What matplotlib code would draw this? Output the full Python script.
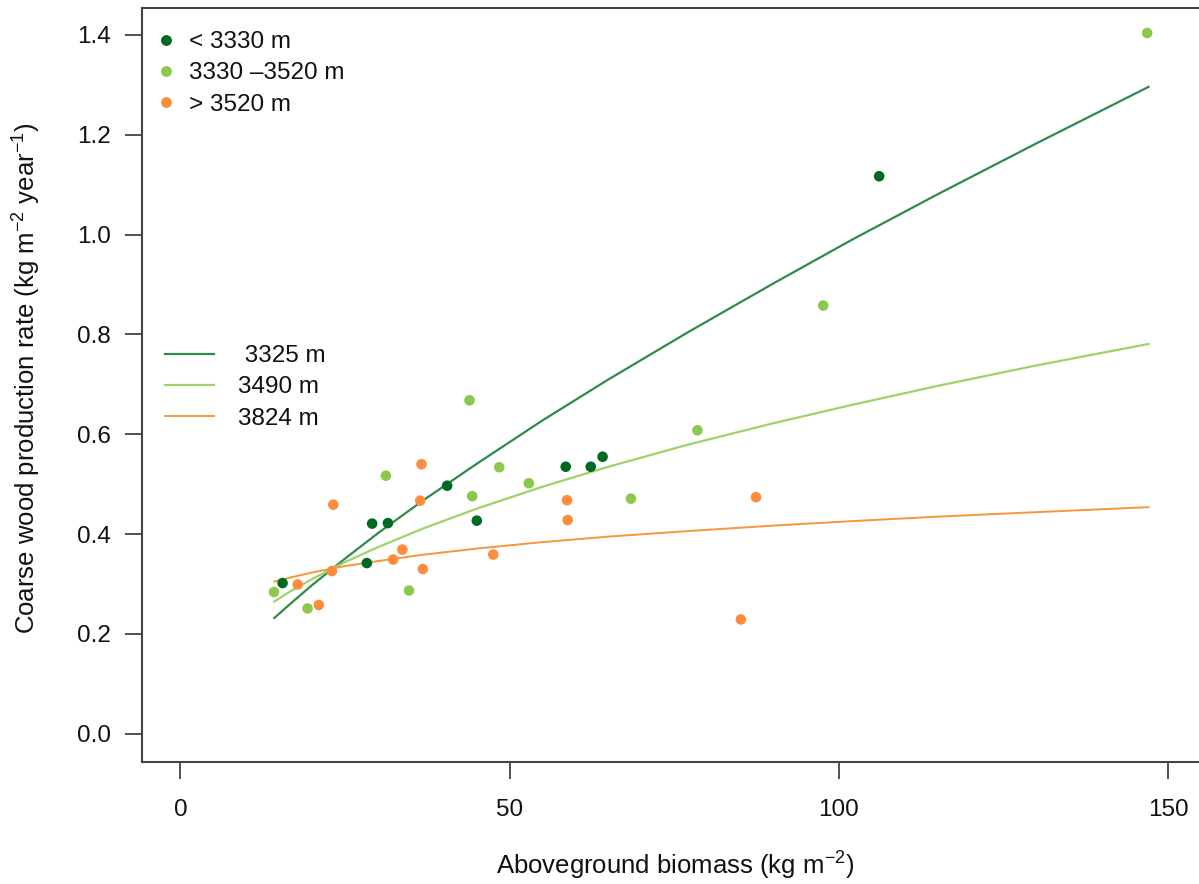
import matplotlib
matplotlib.use("Agg")
import matplotlib.pyplot as plt
from matplotlib.lines import Line2D

plt.rcParams['font.family'] = ['Liberation Sans', 'DejaVu Sans']
plt.rcParams['mathtext.fontset'] = 'custom'
plt.rcParams['mathtext.rm'] = 'Liberation Sans'
plt.rcParams['mathtext.it'] = 'Liberation Sans:italic'
plt.rcParams['mathtext.bf'] = 'Liberation Sans:bold'

# ---- data ----
low_x = [15.5, 29.1, 31.5, 28.3, 40.5, 45.0, 58.5, 62.3, 64.1, 106.1]
low_y = [0.302, 0.421, 0.422, 0.342, 0.497, 0.427, 0.535, 0.535, 0.555, 1.117]

mid_x = [14.2, 19.3, 31.2, 34.7, 43.9, 44.3, 48.4, 52.9, 68.4, 78.5, 97.6, 146.8]
mid_y = [0.284, 0.251, 0.517, 0.287, 0.668, 0.476, 0.534, 0.502, 0.471, 0.608, 0.858, 1.404]

high_x = [17.8, 21.0, 23.2, 23.0, 32.3, 33.7, 36.6, 36.4, 36.8, 47.5, 58.7, 58.8, 87.4, 85.1]
high_y = [0.299, 0.258, 0.459, 0.326, 0.349, 0.369, 0.540, 0.467, 0.330, 0.359, 0.468, 0.428, 0.474, 0.229]

# fitted curves, values
curve_x = [14.25, 17, 20, 25, 30, 37, 45, 55, 65, 77, 90, 102, 115, 130, 147]
curve_3325 = [0.232, 0.264, 0.298, 0.351, 0.402, 0.469, 0.541, 0.628, 0.710, 0.804, 0.902,
              0.990, 1.081, 1.183, 1.296]
curve_3490 = [0.265, 0.288, 0.310, 0.344, 0.374, 0.412, 0.451, 0.495, 0.535, 0.579, 0.622,
              0.659, 0.697, 0.738, 0.781]
curve_3824 = [0.305, 0.314, 0.323, 0.336, 0.346, 0.359, 0.371, 0.384, 0.395, 0.406, 0.417,
              0.426, 0.435, 0.444, 0.454]

point_labels = ['< 3330 m', '3330 \u20133520 m', '> 3520 m']
line_labels = [' 3325 m', '3490 m', '3824 m']

x_ticks = [0, 50, 100, 150]
y_ticks = [0.0, 0.2, 0.4, 0.6, 0.8, 1.0, 1.2, 1.4]

# ---- colours ----
c_dark = '#006a22'
c_light = '#8cc84b'
c_orange = '#fd8d3c'
l_dark = '#2e8b4a'
l_light = '#9fd36a'
l_orange = '#f7963c'
txt = '#111111'

W, H = 1199, 884
fig = plt.figure(figsize=(W / 100, H / 100), dpi=100)
left_px, right_px, top_px, bot_px = 141.7, 1208.0, 8.0, 761.7
ax = fig.add_axes([left_px / W, 1 - bot_px / H, (right_px - left_px) / W, (bot_px - top_px) / H])
ax.set_xlim(-5.89, (right_px - 180.5) / 6.585)
ax.set_ylim(-0.056, (733.3 - top_px) / 498.8)

ms = 58
ax.scatter(low_x, low_y, s=ms, color=c_dark, edgecolors='none', zorder=3)
ax.scatter(mid_x, mid_y, s=ms, color=c_light, edgecolors='none', zorder=3)
ax.scatter(high_x, high_y, s=ms, color=c_orange, edgecolors='none', zorder=3)

(l1,) = ax.plot(curve_x, curve_3325, color=l_dark, lw=1.6, zorder=2)
(l2,) = ax.plot(curve_x, curve_3490, color=l_light, lw=1.6, zorder=2)
(l3,) = ax.plot(curve_x, curve_3824, color=l_orange, lw=1.4, zorder=2)

for sp in ax.spines.values():
    sp.set_color('#444444')
    sp.set_linewidth(1.5)

ax.set_xticks(x_ticks)
ax.set_xticklabels([str(v) for v in x_ticks])
ax.set_yticks(y_ticks)
ax.set_yticklabels([f'{v:.1f}' for v in y_ticks])
ax.tick_params(axis='x', direction='out', length=12, width=1.1, pad=15, labelsize=17.5)
ax.tick_params(axis='y', direction='out', length=12, width=1.1, pad=10, labelsize=17.5)
ax.tick_params(colors='#222222', labelcolor=txt)

ax_cx = (left_px + right_px) / 2
fig.text(ax_cx / W, 1 - 866 / H, r'Aboveground biomass (kg m$^{-2}$)', ha='center', va='center',
         fontsize=18.5, color=txt)
fig.text(27 / W, 1 - 378 / H, r'Coarse wood production rate (kg m$^{-2}$ year$^{-1}$)', ha='center',
         va='center', rotation=90, fontsize=18.5, color=txt)

# legend for points
h_pts = [Line2D([], [], ls='none', marker='o', ms=7.8, color=c, mec='none')
         for c in (c_dark, c_light, c_orange)]
leg1 = ax.legend(h_pts, point_labels, loc='upper left', bbox_to_anchor=(154 / W, 1 - 31 / H),
                 bbox_transform=fig.transFigure, frameon=False, fontsize=17.5,
                 handlelength=1.0, handletextpad=0.45, labelspacing=0.38, borderpad=0,
                 borderaxespad=0)
for t in leg1.get_texts():
    t.set_color(txt)
ax.add_artist(leg1)

leg2 = ax.legend([l1, l2, l3], line_labels, loc='upper left', bbox_to_anchor=(165 / W, 1 - 345 / H),
                 bbox_transform=fig.transFigure, frameon=False, fontsize=17.5,
                 handlelength=2.0, handletextpad=1.0, labelspacing=0.38, borderpad=0,
                 borderaxespad=0)
for t in leg2.get_texts():
    t.set_color(txt)

fig.savefig('out.png', dpi=100, facecolor='white')
